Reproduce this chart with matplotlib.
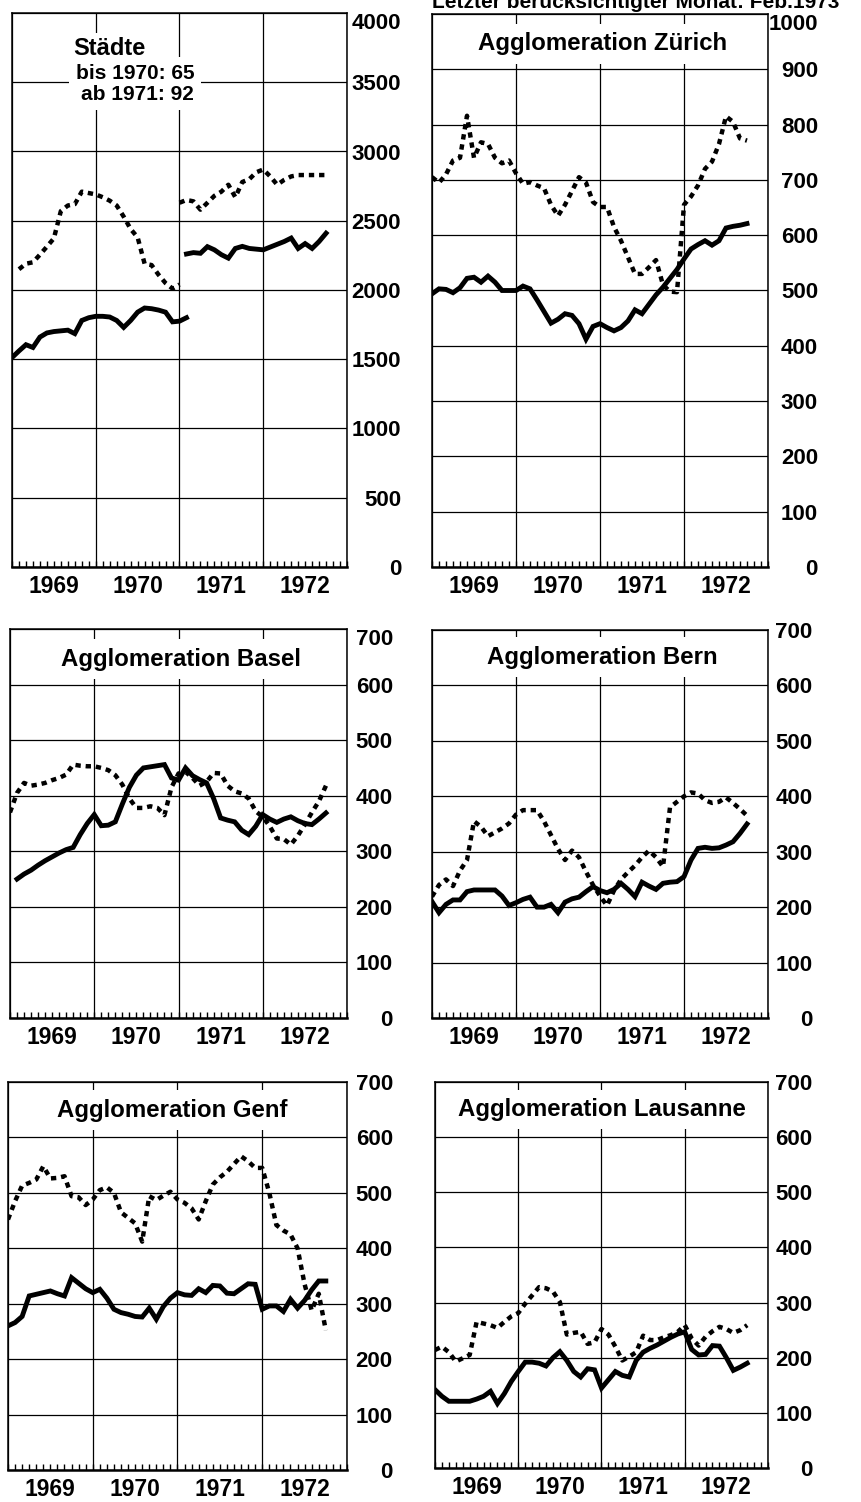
import numpy as np
import matplotlib
matplotlib.use("Agg")
import matplotlib.pyplot as plt

plt.rcParams['font.family'] = ['Liberation Sans', 'DejaVu Sans']
plt.rcParams['font.weight'] = 'bold'

# months counted from Jan 1969 (0) to Jan 1973 (48)
years = ['1969', '1970', '1971', '1972']

# Städte (65 cities until 1970, 92 from 1971)
staedte_dot_65 = [2150, 2190, 2200, 2255, 2313, 2373, 2570, 2610, 2620, 2710, 2700, 2690,
                  2670, 2645, 2610, 2530, 2440, 2380, 2190, 2180, 2110, 2050, 2010, 2040]
staedte_dot_92 = [2630, 2650, 2640, 2580, 2630, 2680, 2710, 2760, 2670, 2780, 2800, 2850,
                  2870, 2820, 2760, 2795, 2820, 2830, 2830, 2830, 2830, 2830]
staedte_sol_65 = [1512, 1560, 1605, 1585, 1660, 1690, 1700, 1705, 1710, 1685, 1780, 1800,
                  1810, 1810, 1805, 1780, 1730, 1780, 1840, 1870, 1865, 1855, 1840, 1770,
                  1775, 1800]
staedte_sol_92 = [2260, 2270, 2265, 2313, 2290, 2255, 2230, 2300, 2315, 2300, 2295, 2290,
                  2310, 2330, 2350, 2375, 2300, 2335, 2300, 2350, 2410]

zuerich_dot = [705, 695, 710, 735, 740, 816, 740, 768, 765, 740, 730, 735, 712, 693, 696,
               690, 685, 655, 635, 655, 680, 705, 695, 660, 651, 651, 615, 590, 560, 530,
               530, 542, 555, 510, 498, 497, 655, 670, 690, 720, 733, 765, 815, 805, 775, 771]
zuerich_sol = [494, 503, 502, 496, 505, 522, 524, 515, 526, 515, 500, 500, 500, 508, 503,
               483, 462, 441, 448, 458, 455, 440, 412, 435, 440, 433, 427, 433, 445, 465,
               458, 475, 492, 506, 522, 538, 557, 575, 583, 590, 582, 590, 613, 616, 618, 621]

basel_dot = [370, 405, 423, 418, 420, 423, 428, 432, 438, 456, 454, 453, 453, 450, 446,
             437, 420, 395, 378, 378, 381, 378, 365, 415, 440, 443, 432, 418, 425, 441,
             440, 418, 408, 404, 395, 372, 362, 345, 323, 322, 312, 328, 348, 370, 390, 418]
basel_sol = [250, 259, 266, 275, 283, 290, 297, 303, 307, 330, 350, 366, 346, 347, 353,
             385, 415, 437, 450, 452, 454, 456, 432, 428, 450, 436, 429, 423, 395, 360,
             356, 353, 338, 330, 345, 366, 358, 352, 358, 362, 355, 350, 348, 358, 369]

bern_dot = [219, 240, 250, 238, 266, 285, 355, 345, 328, 335, 342, 351, 367, 375, 375,
            375, 355, 330, 305, 285, 302, 290, 264, 240, 220, 203, 230, 250, 263, 275,
            290, 302, 290, 273, 380, 390, 400, 407, 405, 393, 388, 390, 398, 388, 377, 365]
bern_sol = [210, 190, 205, 213, 213, 228, 231, 231, 231, 231, 220, 203, 208, 214, 218,
            200, 200, 205, 190, 209, 215, 218, 228, 237, 230, 226, 232, 243, 232, 219,
            245, 238, 232, 243, 245, 246, 255, 285, 306, 308, 306, 307, 312, 318, 333, 350]

genf_dot = [452, 485, 513, 518, 524, 548, 526, 527, 530, 494, 492, 478, 488, 505, 510,
            500, 465, 455, 445, 412, 494, 487, 495, 502, 488, 482, 472, 452, 485, 515,
            528, 538, 552, 566, 557, 545, 545, 500, 442, 432, 425, 400, 335, 288, 318, 252]
genf_sol = [260, 266, 277, 314, 317, 320, 323, 318, 314, 347, 337, 327, 320, 326, 310,
            290, 284, 281, 277, 276, 292, 272, 295, 310, 320, 316, 315, 327, 320, 333,
            332, 319, 318, 327, 336, 335, 290, 296, 296, 286, 308, 292, 306, 325, 341, 341]

lausanne_dot = [214, 220, 210, 193, 199, 205, 265, 262, 259, 254, 265, 275, 281, 298, 313,
                328, 326, 320, 301, 242, 245, 247, 225, 228, 252, 242, 220, 195, 202, 210,
                240, 232, 232, 237, 241, 247, 259, 235, 222, 238, 248, 256, 252, 245, 250, 259]
lausanne_sol = [142, 130, 121, 121, 121, 121, 125, 130, 139, 117, 135, 157, 175, 192, 192,
                190, 185, 200, 211, 195, 175, 165, 180, 178, 145, 160, 175, 168, 165, 195,
                210, 217, 223, 230, 237, 243, 247, 215, 205, 206, 222, 221, 200, 177, 183, 190]

W, H = 862, 1502
fig = plt.figure(figsize=(W / 100, H / 100), dpi=100)
fig.patch.set_facecolor('white')

DOT = dict(color='black', lw=3.2, ls=(0, (1.2, 1.1)), dash_capstyle='butt')
SOL = dict(color='black', lw=3.5, solid_joinstyle='miter')


def make_axes(px, ymax, ystep, pad, top_low=False):
    x0, y0, x1, y1 = px
    ax = fig.add_axes([x0 / W, 1 - y1 / H, (x1 - x0) / W, (y1 - y0) / H])
    ax.set_xlim(0, 48)
    ax.set_ylim(0, ymax)
    ax.set_xticks([0, 12, 24, 36, 48])
    ax.set_xticks(np.arange(0, 49), minor=True)
    ax.set_xticklabels([])
    ax.tick_params(axis='x', which='both', direction='in', length=4.5, width=1.0,
                   top=False, bottom=True)
    ax.set_yticks(np.arange(0, ymax + 1, ystep))
    ax.yaxis.tick_right()
    ax.tick_params(axis='y', length=0, pad=pad, labelsize=16)
    labels = ax.get_yticklabels()
    for lab in labels:
        lab.set_horizontalalignment('right')
    if top_low:
        labels[-1].set_verticalalignment('top')
    ax.grid(True, color='black', lw=0.9)
    ax.set_axisbelow(True)
    for s in ax.spines.values():
        s.set_linewidth(1.1)
    ax.spines['bottom'].set_linewidth(1.8)
    for i, y in enumerate(years):
        ax.annotate(y, xy=(6 + 12 * i, 0), xycoords=('data', 'axes fraction'),
                    xytext=(0, -14), textcoords='offset points',
                    ha='center', va='center', fontsize=16.5)
    return ax


def plot_series(ax, values, start, style):
    x = start + np.arange(len(values))
    ax.plot(x, values, **style)


def title(ax, text, x, y):
    ax.text(x, y, text, ha='center', va='center', fontsize=17.3, zorder=4,
            bbox=dict(facecolor='white', edgecolor='none', pad=6))


# Städte
ax = make_axes((12, 13, 347, 567), 4000, 500, 39, top_low=True)
plot_series(ax, staedte_dot_65, 1, DOT)
plot_series(ax, staedte_dot_92, 24, DOT)
plot_series(ax, staedte_sol_65, 0, SOL)
plot_series(ax, staedte_sol_92, 25, SOL)
ax.text(8.8, 3745, 'Städte', ha='left', va='center', fontsize=17, zorder=4,
        bbox=dict(facecolor='white', edgecolor='none', pad=3))
ax.text(17.6, 3490, 'bis 1970: 65\nab 1971: 92', ha='center', va='center',
        multialignment='right', fontsize=15, zorder=4, linespacing=1.12,
        bbox=dict(facecolor='white', edgecolor='none', pad=5))

# Zürich
ax = make_axes((432, 14, 768, 567), 1000, 100, 36, top_low=True)
plot_series(ax, zuerich_dot, 0, DOT)
plot_series(ax, zuerich_sol, 0, SOL)
title(ax, 'Agglomeration Zürich', 24.3, 946)

# Basel
ax = make_axes((10, 629, 347, 1018), 700, 100, 33, top_low=True)
plot_series(ax, basel_dot, 0, DOT)
plot_series(ax, basel_sol, 1, SOL)
title(ax, 'Agglomeration Basel', 24.4, 646)

# Bern
ax = make_axes((432, 630, 768, 1018), 700, 100, 32)
plot_series(ax, bern_dot, 0, DOT)
plot_series(ax, bern_sol, 0, SOL)
title(ax, 'Agglomeration Bern', 24.4, 651)

# Genf
ax = make_axes((8, 1082, 347, 1470), 700, 100, 33)
plot_series(ax, genf_dot, 0, DOT)
plot_series(ax, genf_sol, 0, SOL)
title(ax, 'Agglomeration Genf', 23.2, 649)

# Lausanne
ax = make_axes((435, 1082, 768, 1468), 700, 100, 32)
plot_series(ax, lausanne_dot, 0, DOT)
plot_series(ax, lausanne_sol, 0, SOL)
title(ax, 'Agglomeration Lausanne', 24.1, 650)

# header, cut off at the top edge like in the scan
fig.text(432 / W, 1 - 8 / H, 'Letzter berücksichtigter Monat: Feb.1973',
         ha='left', va='baseline', fontsize=15)

fig.savefig('out.png', dpi=100, facecolor='white')
